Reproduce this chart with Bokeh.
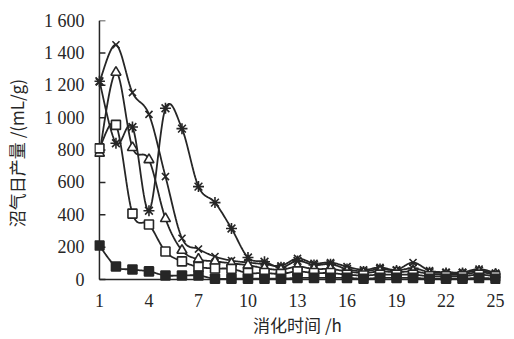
import numpy as np
from bokeh.plotting import figure
from bokeh.models import Range1d, FixedTicker
from bokeh.embed import file_html
from bokeh.resources import INLINE

# ---------------- data ----------------
hours = list(range(1, 26))
x_ticks = [1, 4, 7, 10, 13, 16, 19, 22, 25]
y_ticks = [0, 200, 400, 600, 800, 1000, 1200, 1400, 1600]
y_tick_labels = ["0", "200", "400", "600", "800", "1 000", "1 200", "1 400", "1 600"]

s_filled_square = [210, 80, 62, 50, 25, 25, 25, 5, 5, 5, 5, 5, 10, 10, 10, 10, 5, 10, 10, 10, 5, 5, 5, 10, 5]
s_open_square = [810, 955, 407, 340, 173, 112, 78, 68, 66, 40, 40, 35, 50, 40, 40, 30, 25, 30, 30, 30, 20, 20, 20, 30, 20]
s_triangle = [780, 1280, 815, 740, 376, 180, 125, 112, 100, 88, 70, 60, 80, 65, 65, 50, 40, 50, 45, 50, 35, 30, 30, 45, 30]
s_cross = [1220, 1450, 1155, 1020, 636, 255, 188, 142, 117, 105, 95, 85, 130, 100, 105, 80, 60, 75, 60, 105, 55, 45, 45, 65, 40]
s_star = [1225, 842, 942, 425, 1058, 932, 574, 475, 315, 136, 110, 75, 115, 90, 95, 65, 50, 65, 55, 70, 45, 40, 40, 55, 35]

x_title = "消化时间 /h"
y_title = "沼气日产量 /(mL/g)"

# ---------------- helpers ----------------
def smooth(xs, ys, n=16):
    """Catmull-Rom style smoothing (like a spreadsheet's smoothed line)."""
    xs = np.asarray(xs, float)
    ys = np.asarray(ys, float)
    px = np.concatenate([[xs[0]], xs, [xs[-1]]])
    py = np.concatenate([[ys[0]], ys, [ys[-1]]])
    ox, oy = [], []
    t = np.linspace(0, 1, n, endpoint=False)
    for i in range(1, len(px) - 2):
        p0x, p1x, p2x, p3x = px[i - 1], px[i], px[i + 1], px[i + 2]
        p0y, p1y, p2y, p3y = py[i - 1], py[i], py[i + 1], py[i + 2]
        c1x, c1y = p1x + (p2x - p0x) / 6, p1y + (p2y - p0y) / 6
        c2x, c2y = p2x - (p3x - p1x) / 6, p2y - (p3y - p1y) / 6
        b0, b1, b2, b3 = (1 - t) ** 3, 3 * (1 - t) ** 2 * t, 3 * (1 - t) * t ** 2, t ** 3
        ox.extend(b0 * p1x + b1 * c1x + b2 * c2x + b3 * p2x)
        oy.extend(b0 * p1y + b1 * c1y + b2 * c2y + b3 * p2y)
    ox.append(xs[-1])
    oy.append(ys[-1])
    return ox, oy

INK = "#262626"
SERIF = "Liberation Serif"
CJK = "Noto Sans CJK SC"

p = figure(width=514, height=339, output_backend="svg", toolbar_location=None,
           x_range=Range1d(0.7, 25.3), y_range=Range1d(-37, 1600),
           min_border_left=93, min_border_right=14, min_border_top=20, min_border_bottom=54)
p.outline_line_color = None
p.xgrid.visible = False
p.ygrid.visible = False
p.background_fill_color = "white"

# y axis (labels from the library axis; line and inward ticks drawn at x = first hour)
p.yaxis.ticker = FixedTicker(ticks=y_ticks)
p.yaxis.major_label_overrides = {v: s for v, s in zip(y_ticks, y_tick_labels)}
p.yaxis.axis_line_color = None
p.yaxis.major_tick_line_color = None
p.yaxis.minor_tick_line_color = None
p.yaxis.major_label_text_font = SERIF
p.yaxis.major_label_text_font_size = "18px"
p.yaxis.major_label_text_color = INK
p.yaxis.major_label_standoff = 4
p.yaxis.axis_label = y_title
p.yaxis.axis_label_text_font = CJK
p.yaxis.axis_label_text_font_size = "17px"
p.yaxis.axis_label_text_font_style = "normal"
p.yaxis.axis_label_text_color = INK
p.yaxis.axis_label_standoff = 12

p.xaxis.ticker = FixedTicker(ticks=x_ticks)
p.xaxis.axis_line_color = None
p.xaxis.major_tick_line_color = None
p.xaxis.minor_tick_line_color = None
p.xaxis.major_label_text_font = SERIF
p.xaxis.major_label_text_font_size = "18px"
p.xaxis.major_label_text_color = INK
p.xaxis.major_label_standoff = 2
p.xaxis.axis_label = x_title
p.xaxis.axis_label_text_font = CJK
p.xaxis.axis_label_text_font_size = "17px"
p.xaxis.axis_label_text_font_style = "normal"
p.xaxis.axis_label_text_color = INK
p.xaxis.axis_label_standoff = 2

# axis lines and inward ticks
p.segment(x0=[x_ticks[0]], y0=[y_ticks[0]], x1=[x_ticks[0]], y1=[y_ticks[-1]],
          line_color=INK, line_width=1.5)
p.segment(x0=[x_ticks[0]], y0=[y_ticks[0]], x1=[x_ticks[-1]], y1=[y_ticks[0]],
          line_color=INK, line_width=1.5)
p.ray(x=[x_ticks[0]] * len(y_ticks), y=y_ticks, length=6, length_units="screen",
      angle=0, line_color=INK, line_width=1.5)

series = [
    (s_cross, "x", "white", 10),
    (s_star, "asterisk", "white", 11),
    (s_triangle, "triangle", "white", 10),
    (s_open_square, "square", "white", 9),
    (s_filled_square, "square", INK, 9),
]
for ys, mk, fill, size in series:
    sx, sy = smooth(hours, ys)
    p.line(sx, sy, line_color=INK, line_width=1.8)
for ys, mk, fill, size in series:
    p.scatter(hours, ys, marker=mk, size=size, line_color=INK, line_width=1.6, fill_color=fill)

open("out.html", "w").write(file_html(p, INLINE))
